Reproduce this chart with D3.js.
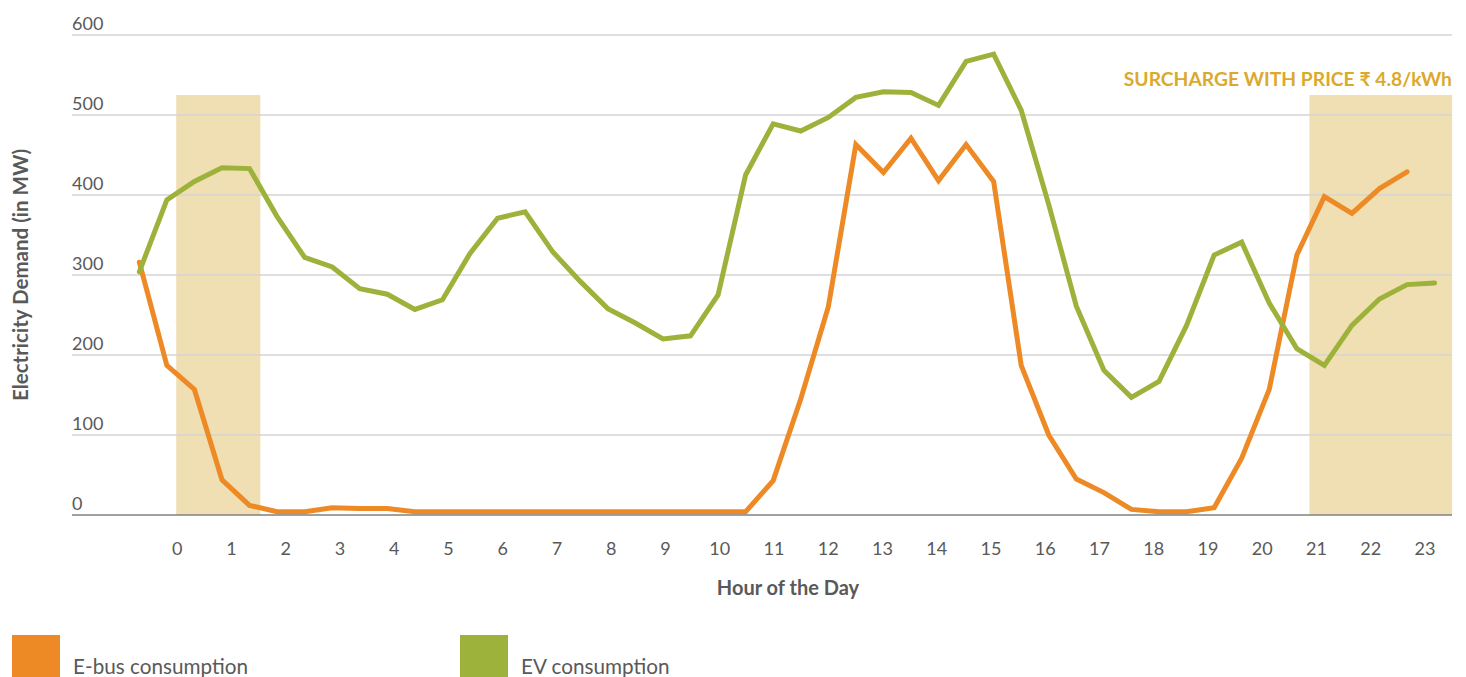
<!DOCTYPE html>
<html>
<head>
<meta charset="utf-8">
<script src="https://cdn.jsdelivr.net/npm/d3@7"></script>
<style>
  html, body { margin: 0; padding: 0; background: #fff; }
  svg { display: block; font-family: Lato, "Open Sans", "Noto Sans", sans-serif; }
</style>
</head>
<body>
<svg id="chart" width="1466" height="677"></svg>
<script>
// Half-hourly demand readings (MW)
const ebusDemand = [316, 187, 157, 44, 12, 4, 4, 9, 8, 8, 4, 4, 4, 4, 4, 4, 4, 4, 4, 4, 4, 4, 4,
  43, 145, 260, 463, 428, 471, 418, 463, 417, 187, 100, 45, 28, 7, 4, 4, 9, 71, 157, 325, 398, 377, 408, 429];
const evDemand = [304, 394, 417, 434, 433, 373, 322, 310, 283, 276, 257, 269, 327, 371, 379, 329, 292, 258,
  240, 220, 224, 275, 425, 489, 480, 497, 522, 529, 528, 512, 567, 576, 506, 388, 261, 181, 147, 167, 237,
  325, 341, 265, 208, 187, 237, 270, 288, 290];

const hourLabels = d3.range(24).map(String);
const yTicks = [0, 100, 200, 300, 400, 500, 600];

// Surcharge windows, in hours on the hour axis
const surchargeWindows = [[-0.02, 1.53], [20.87, 23.5]];
const surchargeTop = 525;

const seriesNames = ["E-bus consumption", "EV consumption"];
const seriesColors = ["#ee8a25", "#9db23b"];

const svg = d3.select("#chart");

const plotLeft = 72, plotRight = 1452;
const y = d3.scaleLinear().domain([0, 600]).range([515, 35]);
const xHour = d3.scaleLinear().domain([0, 23]).range([177.3, 1425]);
const xSlot = d3.scaleLinear().domain([0, 47]).range([139.3, 1434.6]);

// Shaded surcharge windows
svg.append("g").selectAll("rect")
  .data(surchargeWindows)
  .join("rect")
  .attr("x", d => xHour(d[0]))
  .attr("width", d => xHour(d[1]) - xHour(d[0]))
  .attr("y", y(surchargeTop))
  .attr("height", y(0) - y(surchargeTop))
  .attr("fill", "#f0dfb2");

// Horizontal gridlines
svg.append("g").selectAll("line")
  .data(yTicks.filter(d => d > 0))
  .join("line")
  .attr("x1", plotLeft).attr("x2", plotRight)
  .attr("y1", d => y(d)).attr("y2", d => y(d))
  .attr("stroke", "#d4d4d4").attr("stroke-width", 1.5);

// Y tick labels sit above their gridline, left aligned
svg.append("g").selectAll("text")
  .data(yTicks)
  .join("text")
  .attr("x", plotLeft)
  .attr("y", d => y(d) - 5)
  .attr("font-size", 18)
  .attr("fill", "#595959")
  .text(d => d);

// Lines
const line = d3.line().x((d, i) => xSlot(i)).y(d => y(d));
[ebusDemand, evDemand].forEach((data, k) => {
  svg.append("path")
    .datum(data)
    .attr("d", line)
    .attr("fill", "none")
    .attr("stroke", seriesColors[k])
    .attr("stroke-width", 5)
    .attr("stroke-linejoin", "miter")
    .attr("stroke-linecap", "round");
});

// Baseline
svg.append("line")
  .attr("x1", plotLeft).attr("x2", plotRight)
  .attr("y1", y(0)).attr("y2", y(0))
  .attr("stroke", "#808080").attr("stroke-width", 1.5);

// Hour labels
svg.append("g").selectAll("text")
  .data(hourLabels)
  .join("text")
  .attr("x", (d, i) => xHour(i))
  .attr("y", 555)
  .attr("text-anchor", "middle")
  .attr("font-size", 18)
  .attr("fill", "#595959")
  .text(d => d);

// Axis titles
svg.append("text")
  .attr("x", 788).attr("y", 595)
  .attr("text-anchor", "middle")
  .attr("font-size", 20).attr("font-weight", "bold")
  .attr("fill", "#595959")
  .text("Hour of the Day");

svg.append("text")
  .attr("transform", "translate(28,275) rotate(-90)")
  .attr("text-anchor", "middle")
  .attr("font-size", 20.5).attr("font-weight", "bold")
  .attr("fill", "#595959")
  .text("Electricity Demand (in MW)");

// Surcharge note
svg.append("text")
  .attr("x", plotRight).attr("y", 86)
  .attr("text-anchor", "end")
  .attr("font-size", 19.3).attr("font-weight", "bold")
  .attr("fill", "#dba92c")
  .text("SURCHARGE WITH PRICE ₹ 4.8/kWh");

// Legend
const legendX = [12, 460];
const legend = svg.append("g").selectAll("g")
  .data(seriesNames)
  .join("g")
  .attr("transform", (d, i) => `translate(${legendX[i]},635)`);
legend.append("rect")
  .attr("width", 48).attr("height", 48)
  .attr("fill", (d, i) => seriesColors[i]);
legend.append("text")
  .attr("x", 61).attr("y", 39)
  .attr("font-size", 20.7)
  .attr("fill", "#595959")
  .text(d => d);
</script>
</body>
</html>
